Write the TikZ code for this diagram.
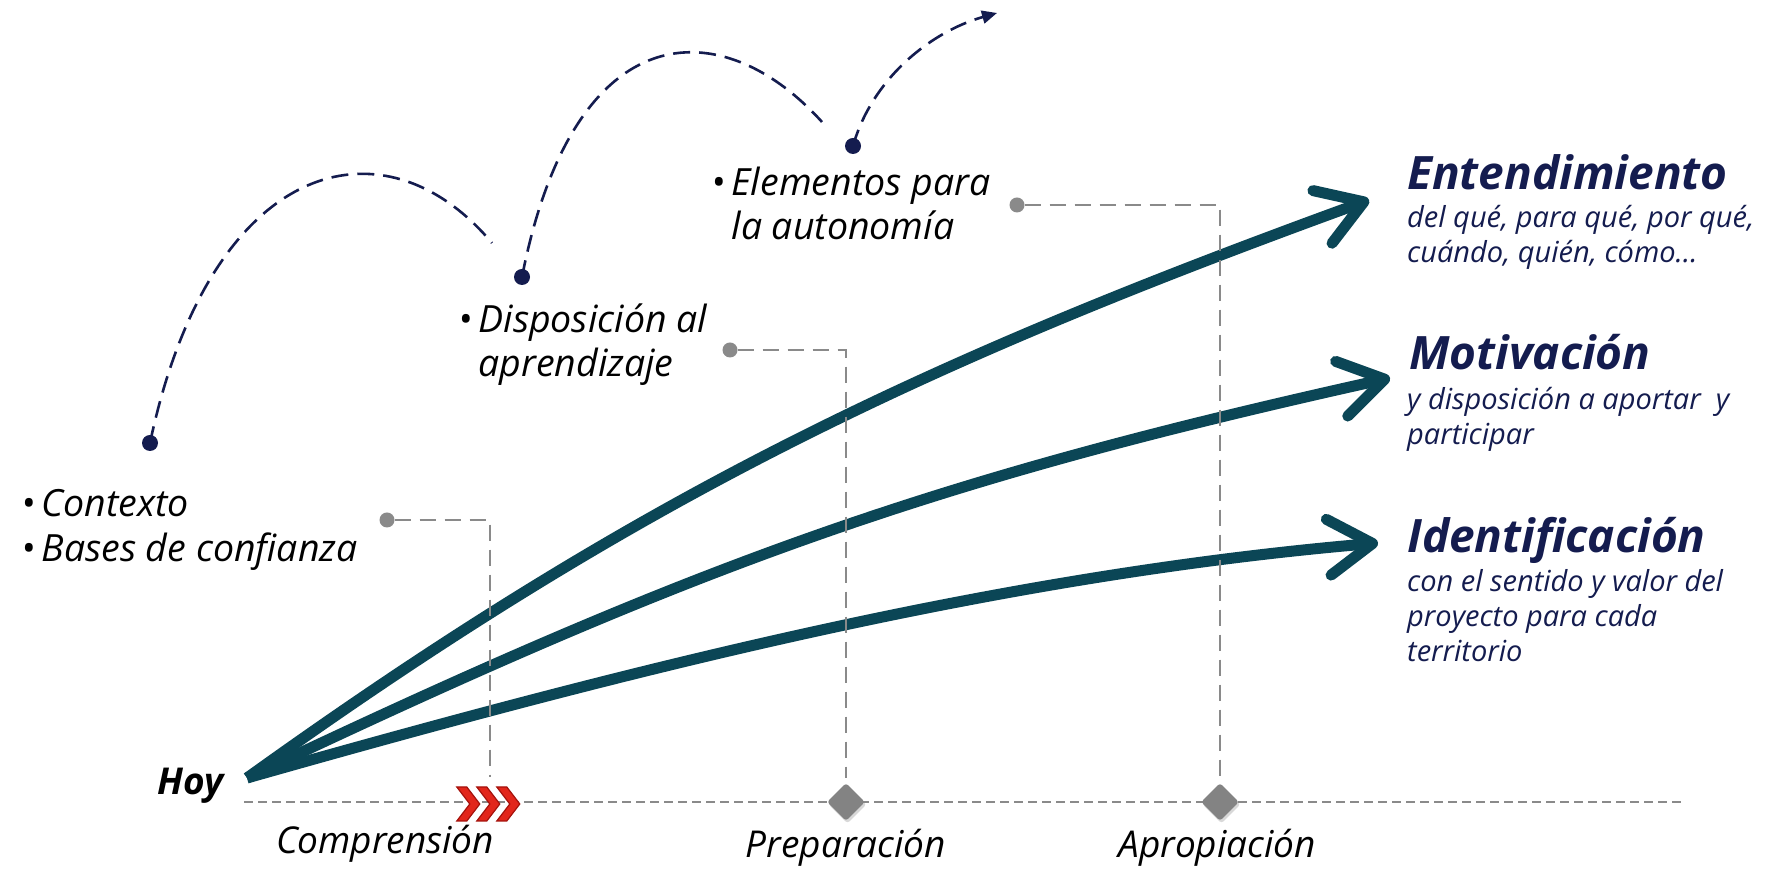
\documentclass[tikz,border=0pt]{standalone}
\usepackage{fontspec}
\setmainfont{Open Sans}
\usetikzlibrary{arrows.meta,shapes.geometric,shadows}

\definecolor{azul}{HTML}{141C4F}
\definecolor{petroleo}{HTML}{0B4656}
\definecolor{gris}{HTML}{8A8A8A}
\definecolor{rojo}{HTML}{E2261B}
\definecolor{rojooscuro}{HTML}{A5120C}

\begin{document}
\begin{tikzpicture}[x=1pt, y=1pt,
  flecha/.style={petroleo, line width=11pt,
    -{Straight Barb[length=44pt, width=56pt, round]}},
  arco/.style={azul, line width=2.6pt, dash pattern=on 17pt off 9pt},
  guia/.style={gris, line width=2.4pt, dash pattern=on 16pt off 9pt},
  linea/.style={gris, line width=2pt, dash pattern=on 9pt off 5pt},
  punto/.style={circle, fill=azul, minimum size=16pt, inner sep=0pt},
  gpunto/.style={circle, fill=gris, minimum size=15pt, inner sep=0pt},
  hito/.style={diamond, fill=gris!95!black, minimum size=38pt, inner sep=0pt,
    rounded corners=3pt,
    drop shadow={opacity=0.3, shadow xshift=1.5pt, shadow yshift=-2.5pt}},
  texto/.style={anchor=base west, inner sep=0pt, align=left,
    font=\fontsize{37.5}{44}\selectfont\itshape},
  titulo/.style={anchor=base west, inner sep=0pt, text=azul,
    font=\fontsize{46}{52}\selectfont\bfseries\itshape},
  sub/.style={anchor=base west, inner sep=0pt, align=left, text=azul,
    font=\fontsize{29}{35}\selectfont\itshape},
  etapa/.style={anchor=base, inner sep=0pt,
    font=\fontsize{37}{42}\selectfont\itshape}
]
\path[use as bounding box, fill=white] (0,0) rectangle (1788,869);

% linea de tiempo
\coordinate (lini) at (244,67);
\coordinate (lfin) at (1682,67);
\draw[linea] (lini) -- (lfin);

\node[font=\fontsize{37}{42}\selectfont\bfseries\itshape, anchor=base east,
  inner sep=0pt] (hoy) at (224,74) {Hoy};
\coordinate (origen) at (247,91);

\node[minimum width=66pt, minimum height=34pt, inner sep=0pt] (chev) at (490,65) {};
\foreach \i in {0,1,2}
  \filldraw[fill=rojo, draw=rojooscuro, line width=1.2pt]
    ([xshift=\i*20pt]chev.west) ++(0,17) -- ++(10,0) -- ++(13,-17)
    -- ++(-13,-17) -- ++(-10,0) -- ++(13,17) -- cycle;
\node[hito] (h1) at (846,67) {};
\node[hito] (h2) at (1220,67) {};

\node[etapa] (compr) at (385,15) {Comprensión};
\node[etapa] (prep) at (846,11) {Preparación};
\node[etapa] (aprop) at (1217,11) {Apropiación};

% textos
\node[texto, font=\fontsize{37.5}{45}\selectfont\itshape] (contexto) at (21,307)
  {\textbullet\,Contexto\\\textbullet\,Bases de confianza};
\node[texto] (dispo) at (458,492)
  {\textbullet\,Disposición al\\\phantom{\textbullet\,}aprendizaje};
\node[texto] (elem) at (711,629)
  {\textbullet\,Elementos para\\\phantom{\textbullet\,}la autonomía};

\node[titulo] (ent) at (1407,679) {Entendimiento};
\node[sub] (entsub) at (1407,606) {del qué, para qué, por qué,\\cuándo, quién, cómo…};
\node[titulo] (mot) at (1409,499) {Motivación};
\node[sub] (motsub) at (1407,424) {y disposición a aportar\ \ y\\participar};
\node[titulo] (ide) at (1407,316) {Identificación};
\node[sub] (idesub) at (1407,207) {con el sentido y valor del\\proyecto para cada\\territorio};

% flechas
\coordinate (t1) at (1369,669);
\coordinate (t2) at (1390,491);
\coordinate (t3) at (1378,326);
\draw[flecha] (origen) .. controls (637,371) and (918,505) .. (t1);
\draw[flecha] (origen) .. controls (698,305) and (930,389) .. (t2);
\draw[flecha] (origen) .. controls (617,196) and (992,293) .. (t3);

% guias
\node[gpunto] (g1) at (387,349) {};
\node[gpunto] (g2) at (730,519) {};
\node[gpunto] (g3) at (1017,664) {};
\draw[guia, shorten >=10pt] (g1) -| (chev.north);
\draw[guia, shorten >=5pt] (g2) -| (h1.north);
\draw[guia, shorten >=5pt] (g3) -| (h2.north);

% saltos
\node[punto] (d1) at (150,426) {};
\node[punto] (d2) at (522,592) {};
\node[punto] (d3) at (853,723) {};
\coordinate (a1) at (492,626);
\coordinate (a2) at (822,747);
\coordinate (a3) at (997,856);
\draw[arco] (d1.center) .. controls (210,710) and (383,756) .. (a1);
\draw[arco] (d2.center) .. controls (574,857) and (722,858) .. (a2);
\draw[arco, -{Triangle[length=15pt, width=13pt]}] (d3.center)
  .. controls (872,790) and (930,837) .. (a3);
\end{tikzpicture}
\end{document}
